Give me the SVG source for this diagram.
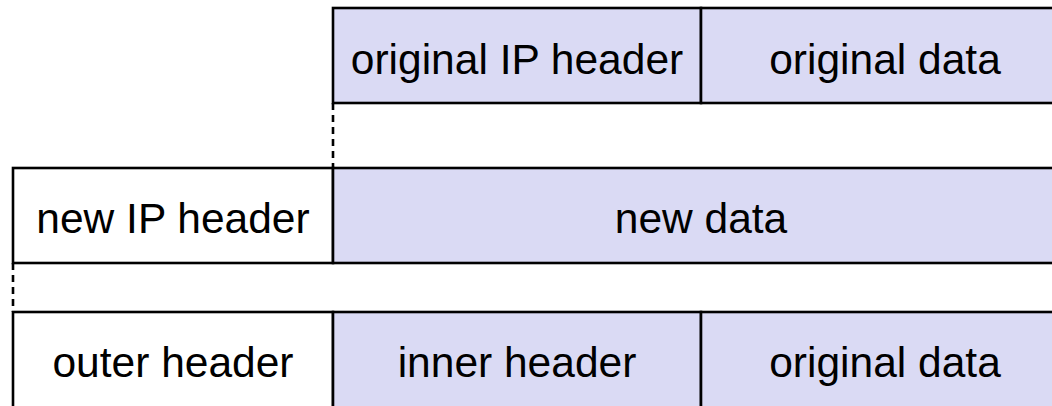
<svg xmlns="http://www.w3.org/2000/svg" width="1052" height="406" viewBox="0 0 1052 406">
  <style>
    .cell { stroke: #000; stroke-width: 2.6; }
    .plain { fill: #ffffff; }
    .shaded { fill: #dadaf4; }
    .lbl { font-family: "Liberation Sans", Arial, sans-serif; font-size: 42.5px; fill: #000; text-anchor: middle; }
    .guide { stroke: #000; stroke-width: 2.6; stroke-dasharray: 7 5; fill: none; }
  </style>
  <rect width="1052" height="406" fill="#ffffff"/>

  <!-- guide lines aligning the packet rows -->
  <g id="connectors">
    <path class="guide" d="M333,103 V168"/>
    <path class="guide" d="M13,263 V312"/>
  </g>

  <!-- original packet -->
  <g id="orig-ip-header">
    <rect class="cell shaded" x="333" y="8" width="368" height="95"/>
    <text class="lbl" x="517" y="73.5">original IP header</text>
  </g>
  <g id="orig-data">
    <rect class="cell shaded" x="701" y="8" width="368" height="95"/>
    <text class="lbl" x="885" y="73.5">original data</text>
  </g>

  <!-- encapsulated packet -->
  <g id="new-ip-header">
    <rect class="cell plain" x="13" y="168" width="320" height="95"/>
    <text class="lbl" x="173" y="233">new IP header</text>
  </g>
  <g id="new-data">
    <rect class="cell shaded" x="333" y="168" width="736" height="95"/>
    <text class="lbl" x="701" y="233">new data</text>
  </g>

  <!-- tunnel view -->
  <g id="outer-header">
    <rect class="cell plain" x="13" y="312" width="320" height="100"/>
    <text class="lbl" x="173" y="377">outer header</text>
  </g>
  <g id="inner-header">
    <rect class="cell shaded" x="333" y="312" width="368" height="100"/>
    <text class="lbl" x="517" y="377">inner header</text>
  </g>
  <g id="tunnel-data">
    <rect class="cell shaded" x="701" y="312" width="368" height="100"/>
    <text class="lbl" x="885" y="377">original data</text>
  </g>
</svg>
